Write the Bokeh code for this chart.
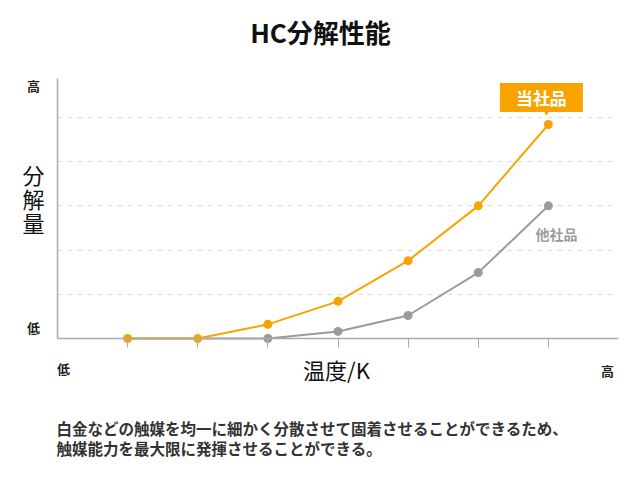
from bokeh.plotting import figure
from bokeh.models import Range1d, FixedTicker, Label, LinearAxis, Grid, CustomLabelingPolicy
from bokeh.embed import file_html
from bokeh.resources import INLINE

# data
temps = [1, 2, 3, 4, 5, 6, 7]
ours = [0.0, 0.0, 0.32, 0.84, 1.76, 3.0, 4.84]
others = [0.0, 0.0, 0.0, 0.16, 0.52, 1.49, 3.0]
grid_levels = [1, 2, 3, 4, 5]
title_text = "HC分解性能"
ylabel_chars = ["分", "解", "量"]
xlabel_text = "温度/K"
low_text = "低"
high_text = "高"
ours_name = "当社品"
others_name = "他社品"
caption_lines = ["白金などの触媒を均一に細かく分散させて固着させることができるため、",
                 "触媒能力を最大限に発揮させることができる。"]

FONT = "Noto Sans CJK JP"
ORANGE = "#F8A300"
GRAY = "#9B9B9B"
W, H = 640, 480
# pixel geometry of the axes area inside the full-canvas frame
AX_LEFT, AX_RIGHT, AX_TOP, AX_BOTTOM = 57, 618, 78, 338
X_MAX, Y_MAX = 8.0, 5.88
sx = (AX_RIGHT - AX_LEFT) / X_MAX
sy = (AX_BOTTOM - AX_TOP) / Y_MAX

p = figure(width=W, height=H, output_backend="svg", toolbar_location=None,
           x_range=Range1d(-AX_LEFT / sx, (W - AX_LEFT) / sx),
           y_range=Range1d(-(H - AX_BOTTOM) / sy, AX_BOTTOM / sy),
           x_axis_location=None, y_axis_location=None,
           min_border=0, min_border_left=0, min_border_right=0,
           min_border_top=0, min_border_bottom=0)
p.outline_line_color = None
p.background_fill_color = "white"
p.border_fill_color = "white"
p.grid.visible = False

no_labels = CustomLabelingPolicy(code="""
    try { return new indices.constructor(indices.size, 0) } catch (e) { return indices }
""")

xaxis = LinearAxis(fixed_location=0, bounds=(0, X_MAX), ticker=FixedTicker(ticks=temps),
                   major_label_policy=no_labels, major_label_text_font_size="1px",
                   major_tick_in=0, major_tick_out=9,
                   minor_tick_line_color=None, axis_line_color="#AAAAAA",
                   major_tick_line_color="#AAAAAA", axis_line_width=1.5,
                   major_tick_line_width=1)
yaxis = LinearAxis(fixed_location=0, bounds=(0, Y_MAX), ticker=FixedTicker(ticks=[]),
                   major_label_policy=no_labels, major_label_text_font_size="1px",
                   major_tick_line_color=None,
                   minor_tick_line_color=None, axis_line_color="#AAAAAA", axis_line_width=1.5)
p.add_layout(xaxis, "below")
p.add_layout(yaxis, "left")
p.add_layout(Grid(dimension=1, ticker=FixedTicker(ticks=grid_levels), bounds=(0.5, 5.5),
                  cross_bounds=(0, X_MAX - 0.05),
                  grid_line_color="#DDDDDD", grid_line_dash="5 5"))

# series
p.line(temps, others, line_color=GRAY, line_width=2)
p.scatter(temps[2:], others[2:], size=9, fill_color=GRAY, line_color=None)
p.line(temps, ours, line_color=ORANGE, line_width=2)
p.scatter(temps, ours, size=9, fill_color=ORANGE, line_color=None)

# callout for ours
p.add_layout(Label(x=temps[-1], y=ours[-1], x_offset=-7, y_offset=27, text=ours_name,
                   text_align="center", text_baseline="middle", text_color="white",
                   text_font=FONT, text_font_style="bold", text_font_size="17px",
                   background_fill_color=ORANGE, padding=(16, 2)))
p.add_layout(Label(x=temps[-1], y=ours[-1], x_offset=-2, y_offset=11, text="▼",
                   text_align="center", text_baseline="middle", text_color=ORANGE,
                   text_font_size="8px"))
p.add_layout(Label(x=temps[-1], y=others[-1], x_offset=8, y_offset=-28, text=others_name,
                   text_align="center", text_baseline="middle", text_color=GRAY,
                   text_font=FONT, text_font_style="bold", text_font_size="14px"))

def slabel(x, y, text, size, style="normal", color="#222222", align="center"):
    p.add_layout(Label(x=x, y=H - y, x_units="screen", y_units="screen",
                       text=text, text_align=align, text_baseline="middle", text_color=color,
                       text_font=FONT, text_font_style=style, text_font_size=size))

slabel(320, 31, title_text, "26px", "bold", "#111111")
slabel(33, 85, high_text, "13px", "bold")
slabel(33, 327, low_text, "13px", "bold")
for i, ch in enumerate(ylabel_chars):
    slabel(33, 173 + i * 24, ch, "22px", "normal", "#111111")
slabel(63, 368, low_text, "13px", "bold")
slabel(607, 370, high_text, "13px", "bold")
slabel(336, 368, xlabel_text, "22px", "normal", "#111111")
for i, line in enumerate(caption_lines):
    slabel(56, 427 + i * 20, line, "15.5px", "bold", "#333333", "left")

open("out.html", "w").write(file_html(p, INLINE))
